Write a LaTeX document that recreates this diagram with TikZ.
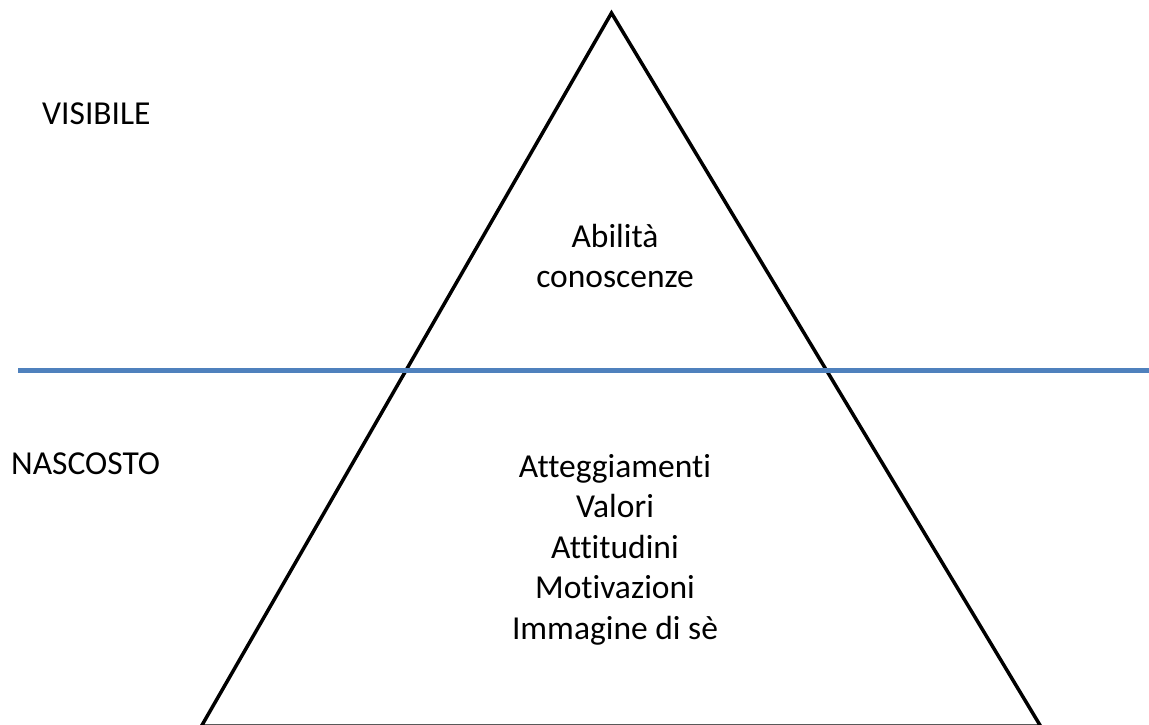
\documentclass[tikz,border=0pt]{standalone}
\usepackage{fontspec}
\setmainfont[Ligatures=NoCommon]{Carlito}
\definecolor{lineblue}{RGB}{79,129,189}
\begin{document}
\begin{tikzpicture}[x=1pt,y=-1pt,
  lbl/.style={inner sep=0pt,anchor=base,font=\fontsize{33.5}{40}\selectfont},
  side/.style={inner sep=0pt,anchor=base west,font=\fontsize{33.5}{40}\selectfont},
  tri/.style={draw=black,line width=3.5pt,line join=miter},
  sea/.style={draw=lineblue,line width=5.5pt}]
\useasboundingbox (0,0) rectangle (1149,724);
\clip (0,0) rectangle (1149,724);
\coordinate (apex) at (611.5,13);
\coordinate (bl) at (201.5,726);
\coordinate (br) at (1040.5,726);
\coordinate (wl) at (18,370.5);
\coordinate (wr) at (1152,370.5);
\draw[tri] (apex) -- (bl) -- (br) -- cycle;
\draw[sea] (wl) -- (wr);
\node[side] (vis) at (42,124) {VISIBILE};
\node[side] (nas) at (11,474) {NASCOSTO};
\node[lbl] (ab) at (615,247) {Abilità};
\node[lbl] (co) at (615,287) {conoscenze};
\node[lbl] (at) at (615,477) {Atteggiamenti};
\node[lbl] (va) at (615,517) {Valori};
\node[lbl] (att) at (615,558) {Attitudini};
\node[lbl] (mo) at (615,598) {Motivazioni};
\node[lbl] (im) at (615,639) {Immagine di sè};
\end{tikzpicture}
\end{document}
